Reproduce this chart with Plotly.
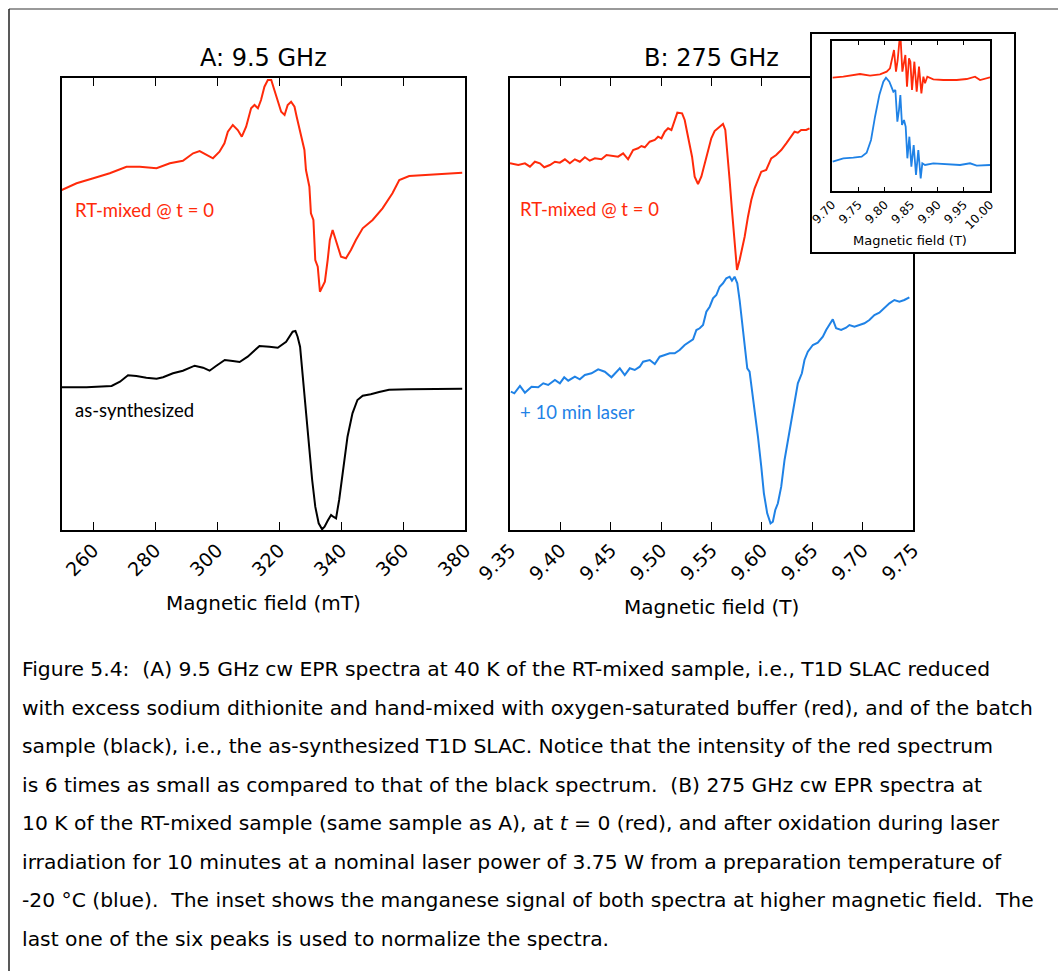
import plotly.graph_objects as go

# ---------------- data ----------------
# Panel A: 9.5 GHz, field in mT, intensity in arbitrary units
a_red_field = [249.9, 254.7, 260.1, 265.4, 270.8, 275.1, 280.5, 284.8, 289.0, 292.3,
               294.4, 296.6, 298.7, 300.8, 302.4, 303.5, 305.1, 306.7, 308.0, 309.4,
               311.0, 312.1, 313.2, 314.2, 315.3, 316.4, 317.5, 318.5, 319.6, 320.7,
               321.8, 322.8, 323.9, 325.0, 325.7, 326.6, 327.4, 328.2, 328.7, 329.3,
               329.8, 330.3, 331.1, 331.7, 332.5, 333.2, 334.1, 334.8, 335.7, 336.4,
               337.3, 338.4, 340.0, 341.6, 343.2, 344.8, 347.0, 350.2, 353.4, 356.6,
               358.8, 362.0, 367.3, 372.7, 379.1]
a_red_int = [340.0, 346.7, 351.7, 356.7, 363.3, 363.3, 361.7, 366.7, 369.3, 376.7,
             379.0, 375.0, 371.7, 378.3, 386.7, 398.3, 405.0, 400.0, 393.3, 403.3,
             421.7, 425.0, 421.7, 430.0, 443.3, 450.0, 450.0, 440.0, 428.3, 418.3,
             415.0, 425.0, 428.3, 423.3, 413.3, 401.7, 390.0, 380.0, 360.0, 350.0,
             343.3, 316.7, 310.0, 270.0, 263.3, 238.3, 243.3, 248.3, 270.0, 290.0,
             300.0, 290.0, 273.3, 271.7, 280.0, 290.0, 301.7, 310.0, 321.7, 336.7,
             350.0, 354.0, 355.0, 356.7, 357.3]

a_black_field = [249.9, 257.9, 266.0, 268.7, 271.3, 274.0, 277.2, 280.5, 282.6, 285.8,
                 289.0, 292.8, 295.5, 297.6, 299.8, 302.5, 305.1, 307.3, 309.9, 313.7,
                 316.9, 319.6, 322.3, 324.4, 325.3, 326.0, 326.8, 327.7, 328.5, 329.6,
                 330.7, 331.7, 332.8, 333.9, 334.7, 335.7, 336.8, 337.5, 338.4, 339.4,
                 340.7, 342.1, 343.7, 345.3, 347.0, 349.6, 352.3, 355.5, 362.0, 369.5,
                 379.1]
a_black_int = [142.7, 142.7, 144.0, 148.3, 154.7, 154.0, 152.3, 151.3, 152.7, 156.7,
               159.3, 164.3, 162.3, 159.3, 164.3, 170.0, 169.0, 168.0, 173.3, 184.0,
               183.3, 182.3, 188.3, 198.3, 199.0, 193.3, 183.3, 153.3, 120.0, 83.3,
               50.0, 23.3, 6.7, 0.7, 3.3, 9.3, 15.0, 13.3, 11.7, 30.0,
               60.0, 93.3, 116.7, 130.0, 134.3, 135.7, 138.0, 140.3, 140.7, 141.0,
               141.3]

# Panel B: 275 GHz, field in T
b_red_field = [9.3500, 9.3582, 9.3648, 9.3698, 9.3747, 9.3797, 9.3840, 9.3896, 9.3946, 9.3995,
               9.4045, 9.4094, 9.4144, 9.4193, 9.4243, 9.4292, 9.4342, 9.4408, 9.4458, 9.4507,
               9.4573, 9.4623, 9.4672, 9.4722, 9.4771, 9.4804, 9.4838, 9.4887, 9.4937, 9.4970,
               9.5003, 9.5036, 9.5069, 9.5102, 9.5135, 9.5161, 9.5208, 9.5234, 9.5260, 9.5283,
               9.5307, 9.5333, 9.5366, 9.5399, 9.5432, 9.5465, 9.5498, 9.5531, 9.5581, 9.5614,
               9.5637, 9.5657, 9.5680, 9.5703, 9.5729, 9.5753, 9.5779, 9.5802, 9.5829, 9.5862,
               9.5895, 9.5928, 9.5961, 9.5994, 9.6043, 9.6093, 9.6142, 9.6192, 9.6242, 9.6275,
               9.6324, 9.6357, 9.6390, 9.6440, 9.6473]
b_red_int = [366.7, 365.0, 366.7, 363.3, 368.3, 366.7, 362.7, 365.0, 368.3, 367.3,
             370.7, 366.7, 370.7, 368.3, 372.7, 369.3, 371.7, 370.7, 375.0, 374.3,
             373.3, 376.7, 370.7, 380.0, 381.7, 384.0, 382.7, 388.3, 390.0, 393.3,
             391.7, 398.3, 401.7, 400.0, 410.0, 417.3, 416.7, 410.0, 396.7, 386.7,
             373.3, 353.3, 346.0, 353.3, 366.7, 380.0, 391.7, 399.0, 402.7, 406.0,
             400.0, 380.0, 350.0, 320.0, 286.7, 260.0, 270.0, 280.0, 293.3, 313.3,
             330.0, 341.7, 350.0, 358.3, 360.0, 371.7, 375.0, 380.0, 386.7, 391.7,
             398.3, 397.3, 400.0, 400.0, 401.7]

b_blue_field = [9.3509, 9.3543, 9.3599, 9.3648, 9.3714, 9.3780, 9.3830, 9.3879, 9.3946, 9.3995,
                9.4038, 9.4078, 9.4144, 9.4193, 9.4243, 9.4309, 9.4375, 9.4441, 9.4507, 9.4590,
                9.4639, 9.4689, 9.4738, 9.4788, 9.4821, 9.4887, 9.4937, 9.4986, 9.5036, 9.5085,
                9.5135, 9.5184, 9.5234, 9.5283, 9.5317, 9.5350, 9.5383, 9.5416, 9.5449, 9.5482,
                9.5515, 9.5548, 9.5581, 9.5614, 9.5647, 9.5680, 9.5703, 9.5729, 9.5756, 9.5779,
                9.5802, 9.5829, 9.5855, 9.5878, 9.5901, 9.5928, 9.5961, 9.5994, 9.6020, 9.6053,
                9.6086, 9.6109, 9.6133, 9.6159, 9.6192, 9.6225, 9.6258, 9.6291, 9.6324, 9.6357,
                9.6397, 9.6423, 9.6456, 9.6506, 9.6555, 9.6605, 9.6638, 9.6671, 9.6704, 9.6737,
                9.6787, 9.6836, 9.6869, 9.6919, 9.6968, 9.7018, 9.7067, 9.7117, 9.7166, 9.7216,
                9.7266, 9.7315, 9.7365, 9.7414, 9.7464]
b_blue_int = [138.3, 136.7, 144.0, 137.3, 143.3, 142.7, 146.7, 145.0, 150.0, 146.7,
              152.7, 149.3, 153.3, 150.7, 155.0, 156.7, 160.7, 158.3, 152.7, 161.7,
              155.0, 161.7, 160.0, 163.3, 168.3, 170.0, 166.0, 173.3, 175.0, 176.7,
              176.7, 180.0, 185.0, 188.3, 190.7, 200.0, 201.7, 205.0, 218.3, 223.3,
              231.7, 235.0, 243.3, 246.7, 251.7, 253.3, 249.3, 253.3, 246.7, 230.0,
              210.0, 186.7, 161.7, 158.3, 140.0, 123.3, 93.3, 63.3, 36.7, 16.7,
              6.7, 8.3, 20.0, 26.7, 43.3, 70.0, 90.0, 110.0, 130.0, 146.7,
              156.7, 170.0, 178.3, 185.0, 187.3, 193.3, 200.0, 205.0, 210.7, 201.7,
              200.0, 202.3, 205.0, 203.3, 205.0, 206.7, 210.0, 215.0, 217.3, 221.7,
              226.7, 230.0, 228.3, 230.0, 232.7]

# Inset: manganese signal at higher field, field in T
in_red_field = [9.7013, 9.7215, 9.7532, 9.7722, 9.7911, 9.8038, 9.8101, 9.8146, 9.8177, 9.8215,
                9.8247, 9.8279, 9.8304, 9.8336, 9.8367, 9.8393, 9.8424, 9.8462, 9.8488, 9.8519,
                9.8564, 9.8608, 9.8652, 9.8697, 9.8735, 9.8766, 9.8810, 9.8924, 9.9114, 9.9367,
                9.9557, 9.9716, 9.9811, 10.000]
in_red_int = [113.3, 114.3, 117.0, 115.3, 116.7, 119.3, 122.7, 134.3, 141.0, 119.3,
              131.0, 149.3, 151.0, 119.3, 131.0, 136.0, 104.3, 132.7, 129.3, 101.0,
              129.3, 99.3, 124.3, 97.7, 114.3, 107.7, 114.3, 111.7, 111.0, 111.0,
              112.0, 114.3, 111.0, 113.7]
in_blue_field = [9.7013, 9.7215, 9.7405, 9.7563, 9.7658, 9.7741, 9.7817, 9.7899, 9.7975, 9.8025,
                 9.8089, 9.8165, 9.8203, 9.8241, 9.8272, 9.8298, 9.8329, 9.8367, 9.8399, 9.8431,
                 9.8469, 9.8507, 9.8551, 9.8595, 9.8639, 9.8684, 9.8715, 9.8766, 9.8924, 9.9177,
                 9.9431, 9.9621, 9.9747, 10.000]
in_blue_int = [29.3, 32.7, 33.3, 34.3, 38.3, 51.0, 74.3, 96.0, 109.3, 113.3,
               109.3, 99.3, 101.0, 69.3, 81.0, 96.0, 66.0, 71.0, 64.3, 32.7,
               54.3, 24.3, 46.0, 16.0, 41.0, 12.7, 27.7, 26.0, 27.7, 27.0,
               26.0, 27.7, 25.3, 26.0]

a_ticks = [260, 280, 300, 320, 340, 360, 380]
b_ticks = [9.35, 9.40, 9.45, 9.50, 9.55, 9.60, 9.65, 9.70, 9.75]
in_ticks = [9.70, 9.75, 9.80, 9.85, 9.90, 9.95, 10.00]

caption_lines = [
    "Figure 5.4:  (A) 9.5 GHz cw EPR spectra at 40 K of the RT-mixed sample, i.e., T1D SLAC reduced",
    "with excess sodium dithionite and hand-mixed with oxygen-saturated buffer (red), and of the batch",
    "sample (black), i.e., the as-synthesized T1D SLAC. Notice that the intensity of the red spectrum",
    "is 6 times as small as compared to that of the black spectrum.  (B) 275 GHz cw EPR spectra at",
    "10 K of the RT-mixed sample (same sample as A), at <i>t</i> = 0 (red), and after oxidation during laser",
    "irradiation for 10 minutes at a nominal laser power of 3.75 W from a preparation temperature of",
    "-20 °C (blue).  The inset shows the manganese signal of both spectra at higher magnetic field.  The",
    "last one of the six peaks is used to normalize the spectra.",
]

RED = "#ff2a0a"
BLUE = "#1f82e6"
W, H = 1058, 971


def px_x(p):
    return p / W


def px_y(p):
    return 1 - p / H


fig = go.Figure()
line_w = 2
fig.add_trace(go.Scatter(x=a_red_field, y=a_red_int, mode="lines",
                         line=dict(color=RED, width=line_w), xaxis="x", yaxis="y"))
fig.add_trace(go.Scatter(x=a_black_field, y=a_black_int, mode="lines",
                         line=dict(color="black", width=line_w), xaxis="x", yaxis="y"))
fig.add_trace(go.Scatter(x=b_red_field, y=b_red_int, mode="lines",
                         line=dict(color=RED, width=line_w), xaxis="x2", yaxis="y2"))
fig.add_trace(go.Scatter(x=b_blue_field, y=b_blue_int, mode="lines",
                         line=dict(color=BLUE, width=line_w), xaxis="x2", yaxis="y2"))
# empty trace so the white inset box subplot exists
fig.add_trace(go.Scatter(x=[], y=[], mode="lines", xaxis="x3", yaxis="y3"))
fig.add_trace(go.Scatter(x=in_red_field, y=in_red_int, mode="lines",
                         line=dict(color=RED, width=1.8), xaxis="x4", yaxis="y4"))
fig.add_trace(go.Scatter(x=in_blue_field, y=in_blue_int, mode="lines",
                         line=dict(color=BLUE, width=1.8), xaxis="x4", yaxis="y4"))

tickfont = dict(family="DejaVu Sans", size=19, color="black")
common = dict(showgrid=False, zeroline=False, showline=True, linecolor="black",
              automargin=False)

plot_y_dom = [px_y(530), px_y(78)]

fig.update_layout(
    width=W, height=H,
    autosize=False,
    margin=dict(l=0, r=0, t=0, b=0, pad=0, autoexpand=False),
    paper_bgcolor="white", plot_bgcolor="white",
    showlegend=False,
    xaxis=dict(**common, domain=[px_x(62), px_x(465)], range=[250, 380], anchor="y",
               tickmode="array", tickvals=a_ticks, ticktext=[str(t) for t in a_ticks],
               ticks="inside", ticklen=8, tickwidth=1, tickcolor="black", mirror="ticks",
               linewidth=1.5, tickangle=-45, tickfont=tickfont),
    yaxis=dict(**common, domain=plot_y_dom, range=[0, 452], anchor="x",
               showticklabels=False, ticks="", mirror=True, linewidth=1.5),
    xaxis2=dict(**common, domain=[px_x(510), px_x(913)], range=[9.35, 9.75], anchor="y2",
                tickmode="array", tickvals=b_ticks, ticktext=[f"{t:.2f}" for t in b_ticks],
                ticks="inside", ticklen=8, tickwidth=1, tickcolor="black", mirror="ticks",
                linewidth=1.5, tickangle=-45, tickfont=tickfont),
    yaxis2=dict(**common, domain=plot_y_dom, range=[0, 452], anchor="x2",
                showticklabels=False, ticks="", mirror=True, linewidth=1.5),
    xaxis3=dict(**common, domain=[px_x(812), px_x(1014)], range=[0, 1], anchor="y3",
                showticklabels=False, ticks="", mirror=True, linewidth=1.5),
    yaxis3=dict(**common, domain=[px_y(252), px_y(34)], range=[0, 1], anchor="x3",
                showticklabels=False, ticks="", mirror=True, linewidth=1.5),
    xaxis4=dict(**common, domain=[px_x(832), px_x(990)], range=[9.70, 10.00], anchor="y4",
                tickmode="array", tickvals=in_ticks, ticktext=[f"{t:.2f}" for t in in_ticks],
                ticks="inside", ticklen=4, tickwidth=1, tickcolor="black", mirror="ticks",
                linewidth=2, tickangle=-45,
                tickfont=dict(family="DejaVu Sans", size=12, color="black")),
    yaxis4=dict(**common, domain=[px_y(191), px_y(41)], range=[0, 150], anchor="x4",
                showticklabels=False, ticks="", mirror=True, linewidth=2),
)


def paper_text(text, x, y, size, family="DejaVu Sans", color="black", xanchor="center"):
    return dict(text=text, x=px_x(x), y=px_y(y), xref="paper", yref="paper",
                xanchor=xanchor, yanchor="middle", showarrow=False,
                font=dict(family=family, size=size, color=color))


ann = []
ann.append(paper_text("A: 9.5 GHz", 263, 58, 24))
ann.append(paper_text("B: 275 GHz", 711, 58, 24))
ann.append(paper_text("Magnetic field (mT)", 263, 603, 20))
ann.append(paper_text("Magnetic field (T)", 711, 607, 20))
ann.append(paper_text("Magnetic field (T)", 910, 240, 13))

lab_font = "Lato"
ann.append(dict(text="RT-mixed @ t = 0", x=253.5, y=320, xref="x", yref="y", xanchor="left",
                yanchor="middle", showarrow=False, font=dict(family=lab_font, size=18.5, color=RED)))
ann.append(dict(text="as-synthesized", x=253.5, y=120, xref="x", yref="y", xanchor="left",
                yanchor="middle", showarrow=False, font=dict(family=lab_font, size=18.5, color="black")))
ann.append(dict(text="RT-mixed @ t = 0", x=9.358, y=321, xref="x2", yref="y2", xanchor="left",
                yanchor="middle", showarrow=False, font=dict(family=lab_font, size=18.5, color=RED)))
ann.append(dict(text="+ 10 min laser", x=9.358, y=118, xref="x2", yref="y2", xanchor="left",
                yanchor="middle", showarrow=False, font=dict(family=lab_font, size=18.5, color=BLUE)))

for i, line in enumerate(caption_lines):
    ann.append(paper_text(line, 20, 669 + 38.5 * i, 20.3, xanchor="left"))

fig.update_layout(annotations=ann)

# outer frame (top and left edges of the page box)
fig.add_shape(type="line", xref="paper", yref="paper", x0=px_x(9), x1=1, y0=px_y(9), y1=px_y(9),
              line=dict(color="#777777", width=1.5))
fig.add_shape(type="line", xref="paper", yref="paper", x0=px_x(9), x1=px_x(9), y0=0, y1=px_y(9),
              line=dict(color="#222222", width=1.5))

fig.write_html("out.html")
